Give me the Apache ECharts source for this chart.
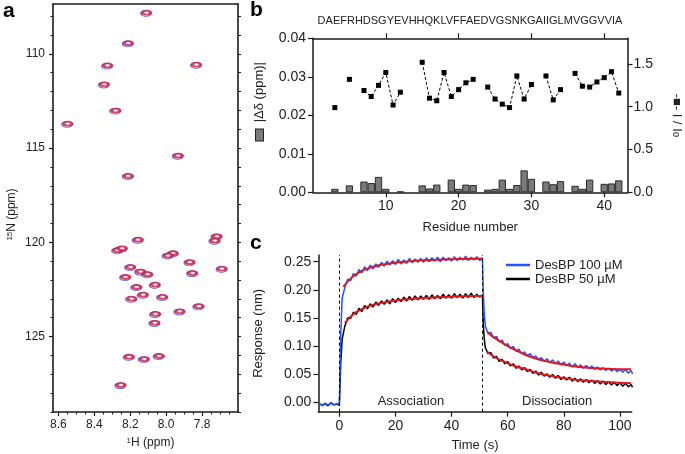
<!DOCTYPE html>
<html><head><meta charset="utf-8">
<script src="https://cdn.jsdelivr.net/npm/echarts@6/dist/echarts.min.js"></script>
<style>html,body{margin:0;padding:0;background:#fff}#c{width:685px;height:454px}</style>
</head><body><div id="c"></div>
<script>
// ---------- panel a: 1H-15N HSQC peaks ----------
const hPpm = [8.109,8.211,8.326,7.831,8.344,8.281,8.548,7.933,8.211,
  8.156,8.270,8.245,7.717,7.729,7.961,7.989,8.198,8.226,7.868,8.142,8.103,7.853,7.689,
  8.164,8.061,8.192,8.128,8.020,7.924,7.818,8.059,8.063,8.206,8.122,8.039,8.252];
const nPpm = [107.82,109.44,110.62,110.58,111.62,113.01,113.71,115.40,116.48,
  119.86,120.42,120.32,119.68,119.91,120.58,120.70,121.31,121.84,121.05,121.55,121.69,121.63,121.40,
  122.37,122.25,122.99,122.78,122.90,123.66,123.39,123.80,124.27,126.07,126.19,126.03,127.57];
const hMajorTicks = [8.6,8.4,8.2,8.0,7.8];
const hMinorTicks = [8.6,8.55,8.5,8.45,8.4,8.35,8.3,8.25,8.2,8.15,8.1,8.05,8.0,7.95,7.9,7.85,7.8,7.75,7.7,7.65];
const nMajorTicks = [110,115,120,125];
const nMinorTicks = [108,109,110,111,112,113,114,115,116,117,118,119,120,121,122,123,124,125,126,127,128,129];

// ---------- panel b: per-residue data ----------
const sequence = 'DAEFRHDSGYEVHHQKLVFFAEDVGSNKGAIIGLMVGGVVIA';
const residues = [1,2,3,4,5,6,7,8,9,10,11,12,13,14,15,16,17,18,19,20,21,22,23,24,25,26,27,28,29,30,31,32,33,34,35,36,37,38,39,40,41,42];
const chemShiftDiff = [null,null,0.0009,null,0.0018,null,0.0028,0.0024,0.0040,0.0009,null,0.0002,null,null,0.0018,0.0010,0.0020,null,0.0033,0.0009,0.0020,0.0019,null,0.0007,0.0009,0.0033,0.0009,0.0019,0.0057,0.0035,null,0.0028,0.0021,0.0029,null,0.0017,0.0009,0.0033,null,0.0022,0.0023,0.0031];
const intensityRatio = [null,null,0.99,null,1.32,null,1.19,1.12,1.25,1.40,1.02,1.17,null,null,1.52,1.10,1.07,1.40,1.12,1.20,1.28,1.32,null,1.23,1.09,1.03,0.99,1.36,1.09,1.26,null,1.36,1.08,1.20,null,1.39,1.24,1.23,1.29,1.34,1.41,1.16];
const residueTicks = [10,20,30,40];
const ratioTicks = [0,0.5,1.0,1.5];

// ---------- panel c: BLI sensorgrams ----------
const timeS = [-7,-6,-5,-4,-3,-2,-1,0,0.5,1,2,3,4,5,6,7,8,9,10,11,12,13,14,15,16,17,18,19,20,21,22,23,24,25,26,27,28,29,30,31,32,33,34,35,36,37,38,39,40,41,42,43,44,45,46,47,48,49,50,51,51.3,51.6,52,53,54,55,56,57,58,59,60,61,62,63,64,65,66,67,68,69,70,71,72,73,74,75,76,77,78,79,80,81,82,83,84,85,86,87,88,89,90,91,92,93,94,95,96,97,98,99,100,101,102,103,104,104.5];
const resp100 = [-0.003,-0.007,-0.002,-0.006,-0.001,-0.006,-0.003,-0.005,0.120,0.185,
  0.205,0.219,0.216,0.229,0.224,0.236,0.230,0.241,0.234,0.244,
  0.237,0.246,0.240,0.249,0.242,0.251,0.244,0.252,0.245,0.254,
  0.246,0.253,0.247,0.256,0.248,0.255,0.249,0.256,0.249,0.257,
  0.250,0.257,0.251,0.258,0.250,0.258,0.252,0.257,0.251,0.259,
  0.252,0.258,0.253,0.260,0.252,0.258,0.253,0.259,0.252,0.257,
  0.200,0.160,
  0.136,0.122,0.124,0.114,0.117,0.107,0.110,0.101,0.104,0.095,
  0.099,0.090,0.094,0.086,0.089,0.082,0.086,0.079,0.082,0.075,
  0.079,0.072,0.077,0.070,0.075,0.068,0.073,0.066,0.071,0.065,
  0.069,0.062,0.068,0.061,0.066,0.060,0.065,0.059,0.064,0.058,
  0.062,0.057,0.061,0.056,0.060,0.055,0.059,0.054,0.058,0.053,
  0.058,0.051,0.056,0.050];
const resp50 = [-0.004,-0.006,-0.003,-0.007,-0.002,-0.005,-0.004,-0.006,0.070,0.112,
  0.136,0.150,0.149,0.160,0.156,0.167,0.161,0.172,0.166,0.175,
  0.169,0.178,0.172,0.180,0.174,0.182,0.175,0.184,0.177,0.185,
  0.179,0.187,0.180,0.188,0.181,0.189,0.182,0.189,0.183,0.190,
  0.183,0.191,0.184,0.190,0.184,0.192,0.185,0.191,0.185,0.193,
  0.186,0.192,0.185,0.193,0.186,0.194,0.186,0.192,0.187,0.191,
  0.140,0.115,
  0.097,0.086,0.088,0.078,0.081,0.072,0.076,0.068,0.072,0.064,
  0.068,0.060,0.064,0.057,0.061,0.054,0.058,0.051,0.055,0.048,
  0.053,0.046,0.050,0.044,0.049,0.042,0.047,0.040,0.045,0.039,
  0.044,0.037,0.042,0.036,0.041,0.035,0.040,0.034,0.039,0.033,
  0.038,0.032,0.037,0.031,0.036,0.030,0.035,0.029,0.034,0.028,
  0.033,0.027,0.031,0.026];
const fit100AssocT = [1.4,3,5,7,9,12,15,18,21,25,30,35,40,45,51];
const fit100AssocR = [0.205,0.215,0.224,0.231,0.236,0.241,0.2445,0.247,0.249,0.251,0.2525,0.2535,0.2545,0.255,0.2555];
const fit100DissT = [52.7,54,56,58,60,63,66,70,75,80,85,90,95,100,104];
const fit100DissR = [0.125,0.119,0.112,0.1055,0.0995,0.092,0.0845,0.0775,0.071,0.0665,0.0625,0.0605,0.059,0.0583,0.058];
const fit50AssocT = [2,4,6,8,10,13,16,20,25,30,35,40,45,51];
const fit50AssocR = [0.141,0.152,0.160,0.1655,0.170,0.1745,0.1775,0.181,0.1835,0.1855,0.1866,0.1876,0.1884,0.189];
const fit50DissT = [52.7,55,58,60,63,66,70,75,80,85,90,95,100,104];
const fit50DissR = [0.0895,0.081,0.073,0.0688,0.063,0.0587,0.0525,0.0465,0.0425,0.039,0.0372,0.0355,0.034,0.0333];
const phaseStart = [0, 51, 104.2];
const responseTicks = [0,0.05,0.10,0.15,0.20,0.25];
const timeTicks = [0,20,40,60,80,100];

// ---------- build ----------
const FONT = '"Liberation Sans", Arial, Helvetica, sans-serif';
const AX = '#1a1a1a';
const TXT = '#222';
const zip = (a, b) => a.map((v, i) => [v, b[i]]);
const line = (w) => ({show: true, onZero: false, lineStyle: {color: AX, width: w}});
const noAxisParts = {axisLabel: {show: false}, splitLine: {show: false}};

const chart = echarts.init(document.getElementById('c'), null, {renderer: 'canvas'});
const option = {
  animation: false,
  backgroundColor: '#fff',
  textStyle: {fontFamily: FONT},
  grid: [
    {left: 53, top: 4, width: 185, height: 409},
    {left: 313, top: 38.3, width: 314.5, height: 154},
    {left: 318.3, top: 255, width: 313.4, height: 156.7}
  ],
  legend: {
    data: ['DesBP 100 µM', 'DesBP 50 µM'],
    orient: 'vertical', left: 506, top: 258, padding: 0, itemGap: 0,
    icon: 'rect', itemWidth: 24, itemHeight: 2.5,
    textStyle: {fontSize: 13, lineHeight: 14, color: TXT, fontFamily: FONT}
  },
  xAxis: [
    {gridIndex: 0, type: 'value', min: 7.6, max: 8.63, inverse: true, position: 'bottom',
      axisLine: line(1.6),
      axisTick: {show: true, length: 4, customValues: hMajorTicks, lineStyle: {color: AX, width: 1.2}},
      axisLabel: {show: true, customValues: hMajorTicks, formatter: v => v.toFixed(1), fontSize: 12, color: TXT, margin: 7},
      splitLine: {show: false},
      name: '{sup|1}H (ppm)', nameLocation: 'middle', nameGap: 25,
      nameTextStyle: {fontSize: 12, color: TXT, padding: [0, 0, 0, 10], rich: {sup: {fontSize: 8, verticalAlign: 'top', color: TXT}}}},
    {gridIndex: 0, type: 'value', min: 7.6, max: 8.63, inverse: true, position: 'bottom',
      axisLine: {show: false, onZero: false},
      axisTick: {show: true, length: 2.5, customValues: hMinorTicks, lineStyle: {color: AX, width: 1}}, ...noAxisParts},
    {gridIndex: 0, type: 'value', min: 7.6, max: 8.63, inverse: true, position: 'top',
      axisLine: line(1.6), axisTick: {show: false}, ...noAxisParts},
    {gridIndex: 1, type: 'value', min: 0, max: 43.2, position: 'bottom',
      axisLine: line(1.5),
      axisTick: {show: true, length: 5, customValues: residueTicks, lineStyle: {color: AX, width: 1.2}},
      axisLabel: {show: true, customValues: residueTicks, fontSize: 14, color: TXT, margin: 7},
      splitLine: {show: false},
      name: 'Residue number', nameLocation: 'middle', nameGap: 29,
      nameTextStyle: {fontSize: 13, color: TXT}},
    {gridIndex: 1, type: 'value', min: 0, max: 43.2, position: 'top',
      axisLine: line(1.5),
      axisTick: {show: true, length: 5, customValues: residueTicks, lineStyle: {color: AX, width: 1.2}}, ...noAxisParts},
    {gridIndex: 2, type: 'value', min: -7.5, max: 104.2, position: 'bottom',
      axisLine: line(1.5),
      axisTick: {show: true, length: 5, customValues: timeTicks, lineStyle: {color: AX, width: 1.2}},
      axisLabel: {show: true, customValues: timeTicks, fontSize: 14, color: TXT, margin: 7},
      splitLine: {show: false},
      name: 'Time (s)', nameLocation: 'middle', nameGap: 27,
      nameTextStyle: {fontSize: 13, color: TXT}}
  ],
  yAxis: [
    {gridIndex: 0, type: 'value', min: 107.36, max: 129, inverse: true, position: 'left',
      axisLine: line(1.6),
      axisTick: {show: true, length: 4, customValues: nMajorTicks, lineStyle: {color: AX, width: 1.2}},
      axisLabel: {show: true, customValues: nMajorTicks, fontSize: 12, color: TXT, margin: 8},
      splitLine: {show: false},
      name: '{sup|15}N (ppm)', nameLocation: 'middle', nameGap: 35, nameRotate: 90,
      nameTextStyle: {fontSize: 12, color: TXT, padding: [0, 13, 0, 0], rich: {sup: {fontSize: 8, verticalAlign: 'top', color: TXT}}}},
    {gridIndex: 0, type: 'value', min: 107.36, max: 129, inverse: true, position: 'left',
      axisLine: {show: false, onZero: false},
      axisTick: {show: true, length: 2.5, customValues: nMinorTicks, lineStyle: {color: AX, width: 1}}, ...noAxisParts},
    {gridIndex: 0, type: 'value', min: 107.36, max: 129, inverse: true, position: 'right',
      axisLine: line(1.6),
      axisTick: {show: true, length: 3, customValues: nMinorTicks, lineStyle: {color: AX, width: 1}}, ...noAxisParts},
    {gridIndex: 1, type: 'value', min: 0, max: 0.04, interval: 0.01, position: 'left',
      axisLine: line(1.5),
      axisTick: {show: true, length: 5, lineStyle: {color: AX, width: 1.2}},
      axisLabel: {show: true, formatter: v => v.toFixed(2), fontSize: 14, color: TXT, margin: 7},
      splitLine: {show: false},
      name: '{sq|}  |Δδ (ppm)|', nameLocation: 'middle', nameGap: 47, nameRotate: 90,
      nameTextStyle: {fontSize: 13, color: TXT, padding: [0, 0, 0, 28],
        rich: {sq: {width: 11, height: 7, backgroundColor: '#7a7a7a', borderColor: '#222', borderWidth: 1}}}},
    {gridIndex: 1, type: 'value', min: 0, max: 1.8, position: 'right',
      axisLine: line(1.5),
      axisTick: {show: true, length: 5, customValues: ratioTicks, lineStyle: {color: AX, width: 1.2}},
      axisLabel: {show: true, customValues: ratioTicks, formatter: v => v.toFixed(1), fontSize: 14, color: TXT, margin: 6},
      splitLine: {show: false},
      name: '-■- I / I{sub|0}', nameLocation: 'middle', nameGap: 43, nameRotate: -90,
      nameTextStyle: {fontSize: 13, color: TXT, rich: {sub: {fontSize: 9, verticalAlign: 'bottom', color: TXT}}}},
    {gridIndex: 2, type: 'value', min: -0.0175, max: 0.262, position: 'left',
      axisLine: line(1.5),
      axisTick: {show: true, length: 5, customValues: responseTicks, lineStyle: {color: AX, width: 1.2}},
      axisLabel: {show: true, customValues: responseTicks, formatter: v => v.toFixed(2), fontSize: 14, color: TXT, margin: 7},
      splitLine: {show: false},
      name: 'Response (nm)', nameLocation: 'middle', nameGap: 53, nameRotate: 90,
      nameTextStyle: {fontSize: 13, color: TXT}}
  ],
  series: [
    // panel a
    {type: 'scatter', xAxisIndex: 0, yAxisIndex: 0, data: zip(hPpm, nPpm), symbol: 'circle',
      symbolSize: [10.5, 6], symbolOffset: [-0.6, 0.7], silent: true,
      itemStyle: {color: 'rgba(0,0,0,0)', borderColor: '#3b3bd8', borderWidth: 1}},
    {type: 'scatter', xAxisIndex: 0, yAxisIndex: 0, data: zip(hPpm, nPpm), symbol: 'circle',
      symbolSize: [8, 4], silent: true,
      itemStyle: {color: '#fff', borderColor: '#d0143e', borderWidth: 2.5}},
    // panel b
    {type: 'bar', name: 'dd', xAxisIndex: 3, yAxisIndex: 3, barWidth: 7.3,
      data: residues.map((r, i) => [r, chemShiftDiff[i]]).filter(d => d[1] !== null),
      itemStyle: {color: '#7a7a7a', borderColor: '#2a2a2a', borderWidth: 1}},
    {type: 'line', name: 'ratio', xAxisIndex: 3, yAxisIndex: 4, connectNulls: false,
      data: zip(residues, intensityRatio), symbol: 'rect', symbolSize: 5, showSymbol: true,
      itemStyle: {color: '#000'}, lineStyle: {color: '#000', width: 1, type: [3, 2]}},
    // panel c
    {type: 'line', name: 'DesBP 50 µM', xAxisIndex: 5, yAxisIndex: 5, data: zip(timeS, resp50),
      showSymbol: false, color: '#000', lineStyle: {color: '#000', width: 1.5}, itemStyle: {color: '#000'},
      markLine: {silent: true, symbol: ['none', 'none'], label: {show: false},
        lineStyle: {color: '#000', width: 1, type: [3, 3]},
        data: [{xAxis: phaseStart[0]}, {xAxis: phaseStart[1]}]},
      markArea: {silent: true, itemStyle: {color: 'rgba(0,0,0,0)'},
        label: {show: true, position: 'insideBottom', distance: 4, fontSize: 13, color: TXT, fontFamily: FONT},
        data: [[{name: 'Association', xAxis: phaseStart[0]}, {xAxis: phaseStart[1]}],
               [{name: 'Dissociation', xAxis: phaseStart[1]}, {xAxis: phaseStart[2]}]]}},
    {type: 'line', name: 'DesBP 100 µM', xAxisIndex: 5, yAxisIndex: 5, data: zip(timeS, resp100),
      showSymbol: false, color: '#1f55ff', lineStyle: {color: '#1f55ff', width: 1.5}, itemStyle: {color: '#1f55ff'}},
    {type: 'line', name: 'fit100a', xAxisIndex: 5, yAxisIndex: 5, data: zip(fit100AssocT, fit100AssocR),
      showSymbol: false, smooth: 0.3, lineStyle: {color: '#e3161e', width: 2}},
    {type: 'line', name: 'fit100d', xAxisIndex: 5, yAxisIndex: 5, data: zip(fit100DissT, fit100DissR),
      showSymbol: false, smooth: 0.3, lineStyle: {color: '#e3161e', width: 2}},
    {type: 'line', name: 'fit50a', xAxisIndex: 5, yAxisIndex: 5, data: zip(fit50AssocT, fit50AssocR),
      showSymbol: false, smooth: 0.3, lineStyle: {color: '#e3161e', width: 2}},
    {type: 'line', name: 'fit50d', xAxisIndex: 5, yAxisIndex: 5, data: zip(fit50DissT, fit50DissR),
      showSymbol: false, smooth: 0.3, lineStyle: {color: '#e3161e', width: 2}}
  ],
  graphic: [
    {type: 'text', x: 3, y: 1, style: {text: 'a', font: 'bold 21px ' + FONT, fill: '#000'}},
    {type: 'text', x: 250, y: -0.5, style: {text: 'b', font: 'bold 21px ' + FONT, fill: '#000'}},
    {type: 'text', x: 250, y: 233, style: {text: 'c', font: 'bold 21px ' + FONT, fill: '#000'}},
    {type: 'text', x: 470, y: 15, style: {text: sequence, font: '11px ' + FONT, fill: TXT, textAlign: 'center', align: 'center'}}
  ]
};
chart.setOption(option);
</script>
</body></html>
